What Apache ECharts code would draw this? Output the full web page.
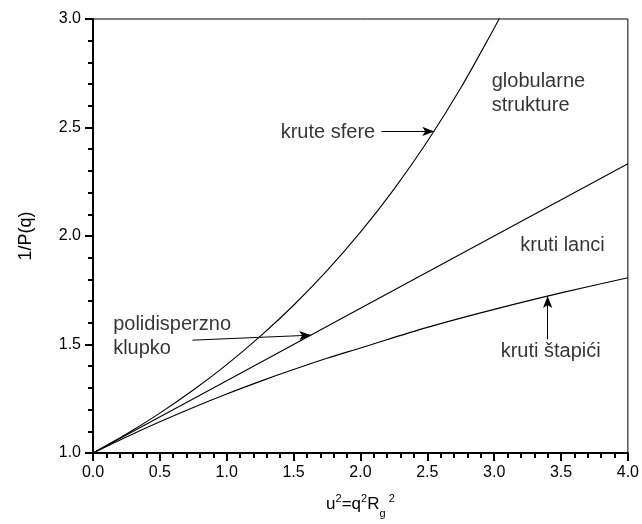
<!DOCTYPE html>
<html><head><meta charset="utf-8">
<script src="https://cdn.jsdelivr.net/npm/echarts@6/dist/echarts.min.js"></script>
<style>html,body{margin:0;padding:0;background:#fff}#c{width:642px;height:524px}</style>
</head><body><div id="c"></div>
<script>
// ---- data ----
const xTickValues = [0, 0.5, 1, 1.5, 2, 2.5, 3, 3.5, 4];
const yTickValues = [1, 1.5, 2, 2.5, 3];

// krute sfere (rigid spheres)
const sphereU = [0, 0.25, 0.5, 0.75, 1, 1.25, 1.5, 1.75, 2, 2.25, 2.5, 2.75, 3, 3.05];
const sphereV = [1, 1.0875, 1.1838, 1.29, 1.4073, 1.5371, 1.6809, 1.8404, 2.0177, 2.2152, 2.4355, 2.6818, 2.9576, 3.016];

// polidisperzno klupko / kruti lanci (straight line)
const coilU = [0, 1, 2, 3, 4];
const coilV = [1, 1.3333, 1.6667, 2, 2.3333];

// kruti štapići (rigid rods)
const rodU = [0, 0.25, 0.5, 0.75, 1, 1.25, 1.5, 1.75, 2, 2.5, 3, 3.5, 4];
const rodV = [1, 1.074, 1.144, 1.21, 1.272, 1.33, 1.385, 1.437, 1.484, 1.579, 1.662, 1.738, 1.808];

// annotation texts and their anchor points (data coords)
const labelTexts = ['krute sfere', 'globularne\nstrukture', 'kruti lanci', 'kruti štapići', 'polidisperzno\nklupko'];
const labelU = [1.40, 2.978, 3.192, 3.045, 0.147];
const labelV = [2.476, 2.655, 1.958, 1.468, 1.537];

// arrows (from -> to, data coords)
const arrowFrom = [[2.157, 2.482], [3.40, 1.524], [0.744, 1.520]];
const arrowTo = [[2.552, 2.482], [3.40, 1.723], [1.632, 1.543]];

const FONT = 'Liberation Sans, Arial, sans-serif';
const zip = (a, b) => a.map((v, i) => [v, b[i]]);

const chart = echarts.init(document.getElementById('c'), null, {renderer: 'canvas'});
const lineStyle = {color: '#000', width: 1.1};

chart.setOption({
  animation: false,
  backgroundColor: '#fff',
  grid: {left: 93, right: 13, top: 19, bottom: 70, show: true, borderColor: '#000', borderWidth: 1},
  xAxis: {
    type: 'value', min: 0, max: 4, interval: 0.5,
    name: '{n|u}{sup|2}{n|=q}{sup|2}{n|R}{sub|g}{sup| 2}',
    nameLocation: 'middle', nameGap: 36,
    nameTextStyle: {
      fontFamily: FONT, color: '#000',
      rich: {
        n: {fontSize: 17, fontFamily: FONT, color: '#000', lineHeight: 30, verticalAlign: 'middle'},
        sup: {fontSize: 11, fontFamily: FONT, color: '#000', lineHeight: 30, verticalAlign: 'top', padding: [4, 0, 0, 0]},
        sub: {fontSize: 11, fontFamily: FONT, color: '#000', lineHeight: 30, verticalAlign: 'bottom'}
      }
    },
    axisLine: {show: true, onZero: false, lineStyle: {color: '#000', width: 2}},
    axisTick: {show: true, inside: false, length: 8, lineStyle: {color: '#000', width: 2}},
    minorTick: {show: true, splitNumber: 5, length: 5, lineStyle: {color: '#000', width: 2}},
    splitLine: {show: false},
    axisLabel: {fontFamily: FONT, fontSize: 16, color: '#000', margin: 12, showMinLabel: true, showMaxLabel: true,
      formatter: v => xTickValues.some(t => Math.abs(t - v) < 1e-9) ? v.toFixed(1) : ''}
  },
  yAxis: {
    type: 'value', min: 1, max: 3, interval: 0.5,
    name: '1/P(q)', nameLocation: 'middle', nameGap: 58,
    nameTextStyle: {fontFamily: FONT, fontSize: 18, color: '#000'},
    axisLine: {show: true, onZero: false, lineStyle: {color: '#000', width: 2}},
    axisTick: {show: true, inside: false, length: 8, lineStyle: {color: '#000', width: 2}},
    minorTick: {show: true, splitNumber: 5, length: 5, lineStyle: {color: '#000', width: 2}},
    splitLine: {show: false},
    axisLabel: {fontFamily: FONT, fontSize: 16, color: '#000', margin: 12, showMinLabel: true, showMaxLabel: true,
      formatter: v => yTickValues.some(t => Math.abs(t - v) < 1e-9) ? v.toFixed(1) : ''}
  },
  series: [
    {name: 'krute sfere', type: 'line', data: zip(sphereU, sphereV), smooth: 0.3, showSymbol: false, symbol: 'none', lineStyle, clip: true, silent: true},
    {name: 'polidisperzno klupko', type: 'line', data: zip(coilU, coilV), showSymbol: false, symbol: 'none', lineStyle, clip: true, silent: true,
      markLine: {
        silent: true, animation: false,
        symbol: ['none', 'arrow'], symbolSize: [7, 12],
        label: {show: false},
        lineStyle: {color: '#000', width: 1, type: 'solid'},
        data: arrowFrom.map((f, i) => [{coord: f}, {coord: arrowTo[i]}])
      }
    },
    {name: 'kruti štapići', type: 'line', data: zip(rodU, rodV), smooth: 0.3, showSymbol: false, symbol: 'none', lineStyle, clip: true, silent: true},
    {name: 'labels', type: 'scatter', silent: true, symbol: 'circle', symbolSize: 1,
      itemStyle: {color: 'rgba(0,0,0,0)'},
      data: labelTexts.map((t, i) => ({value: [labelU[i], labelV[i]], label: {formatter: t}})),
      label: {show: true, position: 'right', distance: 0, fontFamily: FONT, fontSize: 20, lineHeight: 24, color: '#000', align: 'left', verticalAlign: 'middle'}
    }
  ]
});
</script>
</body></html>
